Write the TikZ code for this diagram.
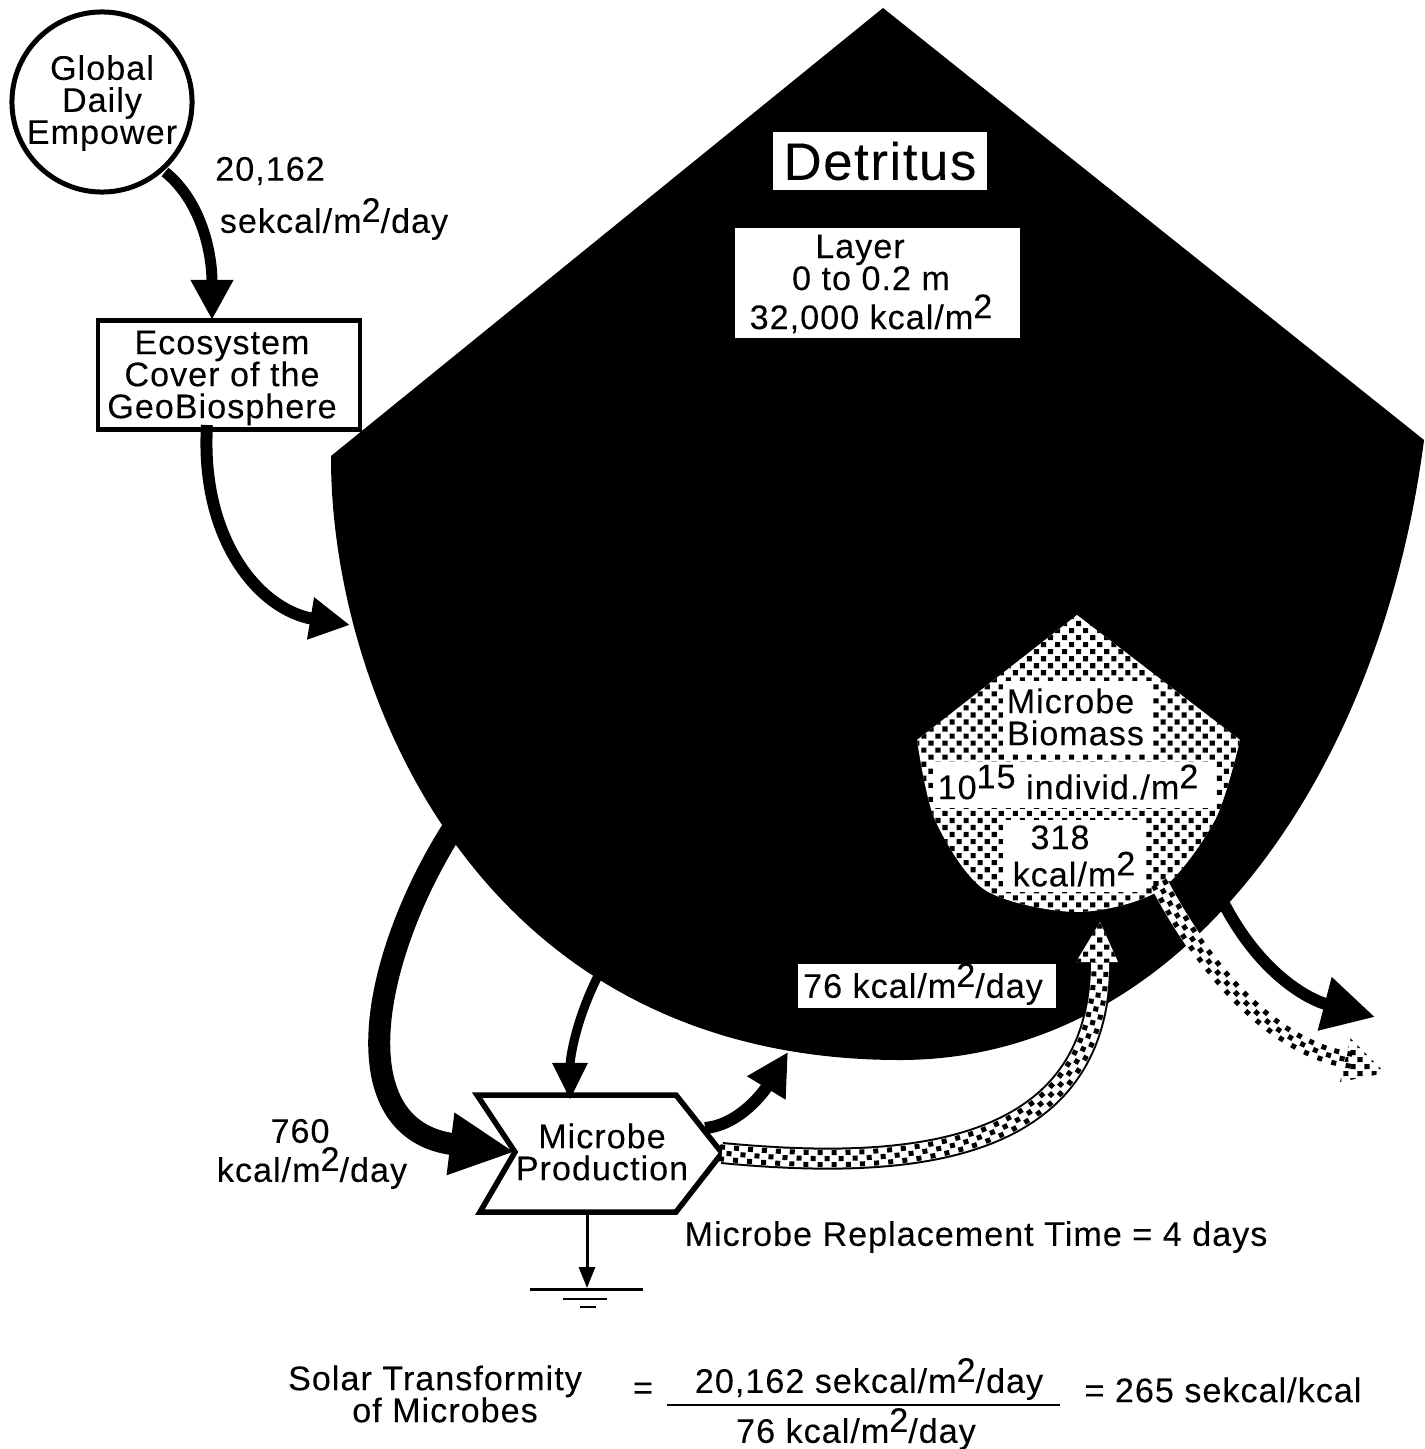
\documentclass[tikz,border=0pt]{standalone}
\usepackage{fontspec}
\setmainfont{Liberation Sans}[LetterSpace=3,FakeBold=0.12]
\usepackage{xcolor}
\usetikzlibrary{arrows.meta, patterns, decorations.markings}
\definecolor{InkBlack}{RGB}{0,0,0}
\pgfdeclarepatternformonly{stipple}{\pgfqpoint{-.1pt}{-.1pt}}{\pgfqpoint{4.1pt}{4.1pt}}{\pgfqpoint{4pt}{4pt}}{
  \pgfpathrectangle{\pgfqpoint{0pt}{0pt}}{\pgfqpoint{1.45pt}{1.45pt}}
  \pgfpathrectangle{\pgfqpoint{2pt}{2pt}}{\pgfqpoint{1.45pt}{1.45pt}}
  \pgfusepath{fill}}
\newcommand{\up}[1]{\smash{\raisebox{0.32em}{#1}}}
\newcommand{\txt}{\fontsize{9.7}{9.1}\selectfont}
\tikzset{
  label/.style={font=\txt, align=center, inner sep=0pt},
  whitebox/.style={label, fill=white},
  flow/.style={InkBlack, line width=.11cm, -{Triangle[length=.4cm, width=.4cm]}},
  bandedge/.style={InkBlack, line width=.22cm},
  bandfill/.style={white, line width=.18cm},
  stippleband/.style={draw=none, decoration={markings,
      mark=between positions 0 and 1 step .07cm with {
        \ifodd\pgfkeysvalueof{/pgf/decoration/mark info/sequence number}\relax
          \fill[InkBlack] (-2.5,-8.5) rectangle (2.5,-3.5);
          \fill[InkBlack] (-2.5,3.5) rectangle (2.5,8.5);
        \else
          \fill[InkBlack] (-2.5,-2.5) rectangle (2.5,2.5);
        \fi}},
    postaction={decorate}},
}
\begin{document}
\begin{tikzpicture}[x=0.01cm, y=-0.01cm]
\useasboundingbox (0,0) rectangle (1424,1449);

% ---- Detritus tank ----
\fill[InkBlack] (883,8) -- (1424,440)
  .. controls (1380,780) and (1180,1060) .. (900,1060)
  .. controls (470,1060) and (330,680) .. (331,456) -- cycle;
\node[whitebox, minimum width=2.14cm, minimum height=.57cm, font=\fontsize{15}{18}\selectfont] (detritus) at (880,161) {Detritus};
\node[whitebox, minimum width=2.85cm, minimum height=1.10cm] (layer) at (877.5,283) {};
\node[label] (layertext) at (871,284) {Layer\hspace*{.22cm}\\0 to 0.2 m\hspace*{-.04cm}\\[2pt]32,000 kcal/m\up{2}};

% ---- Microbe tank ----
\fill[white] (1077,615) -- (1240,740)
  -- plot[smooth] coordinates {(1240,740) (1215,820) (1160,890) (1077,912) (985,890) (935,820) (917,740)} -- cycle;
\fill[pattern=stipple, pattern color=InkBlack] (1077,615) -- (1240,740)
  -- plot[smooth] coordinates {(1240,740) (1215,820) (1160,890) (1077,912) (985,890) (935,820) (917,740)} -- cycle;
\node[whitebox, minimum width=1.50cm, minimum height=.72cm] (biomass) at (1078,717) {};
\node[label] (biomasstext) at (1075.5,717) {Microbe\hspace*{.1cm}\\Biomass};
\node[whitebox, minimum width=2.82cm, minimum height=.46cm] (individ) at (1074,785) {};
\node[label] (individtext) at (1068,787) {10\up{15} individ./m\up{2}};
\node[whitebox, minimum width=1.42cm, minimum height=.72cm] (stock) at (1074,856) {318\hspace*{.28cm}\\[1.5pt]kcal/m\up{2}};
\node[whitebox, minimum width=2.58cm, minimum height=.43cm] (yield) at (927,986) {};
\node[label] (yieldtext) at (923,989) {76 kcal/m\up{2}/day};

% ---- Sources and producer ----
\node[draw=InkBlack, line width=.05cm, circle, fill=white, minimum size=1.80cm] (global) at (102,102) {};
\node[label] (globaltext) at (102,103) {Global\\Daily\\Empower};
\node[draw=InkBlack, line width=.045cm, fill=white, minimum width=2.62cm, minimum height=1.09cm] (cover) at (229,375) {};
\node[label] (covertext) at (222,378) {Ecosystem\\Cover of the\\GeoBiosphere};
\draw[InkBlack, line width=.055cm, fill=white] (477,1095) -- (676,1095) -- (722,1153) -- (676,1212) -- (480,1212) -- (515,1152) -- cycle;
\node[label] (prod) at (602,1152) {Microbe\\Production};

% ---- Free ends ----
\coordinate (globalout) at (165,172);
\coordinate (coverin) at (212,320);
\coordinate (coverout) at (207,425);
\coordinate (tankin) at (350,625);
\coordinate (tankout) at (452,830);
\coordinate (prodleft) at (515,1152);
\coordinate (tankdown) at (600,972);
\coordinate (prodtop) at (570,1100);
\coordinate (produp) at (705,1128);
\coordinate (tankback) at (788,1052);
\coordinate (prodright) at (722,1153);
\coordinate (stockin) at (1100,955);
\coordinate (stockout) at (1160,885);
\coordinate (stockend) at (1350,1060);
\coordinate (tankleak) at (1222,900);
\coordinate (leakend) at (1375,1017);
\coordinate (prodbottom) at (587,1212);
\coordinate (ground) at (587,1288);

% ---- Flows ----
\draw[flow] (globalout) .. controls (200,200) and (212,250) .. (coverin);
\draw[flow, line width=.12cm] (coverout) .. controls (200,540) and (260,610) .. (tankin);
\draw[flow, line width=.22cm, -{Triangle[length=.65cm, width=.58cm]}] (tankout) .. controls (370,960) and (340,1130) .. (prodleft);
\draw[flow, line width=.09cm, -{Triangle[length=.37cm, width=.33cm]}] (tankdown) .. controls (575,1020) and (570,1060) .. (prodtop);
\draw[flow, line width=.12cm, -{Triangle[length=.42cm, width=.42cm]}] (produp) .. controls (740,1125) and (765,1090) .. (tankback);
\draw[flow, line width=.12cm, -{Triangle[length=.52cm, width=.52cm]}] (tankleak) .. controls (1260,975) and (1310,1000) .. (leakend);
\draw[flow, line width=.03cm, -{Triangle[length=.21cm, width=.16cm]}] (prodbottom) -- (ground);

% ---- Stippled flows ----
\draw[bandedge] (prodright) .. controls (900,1170) and (1105,1160) .. (stockin);
\draw[bandfill] (prodright) .. controls (900,1170) and (1105,1160) .. (stockin);
\draw[stippleband] (prodright) .. controls (900,1170) and (1105,1160) .. (stockin);
\draw[bandfill] (stockout) .. controls (1210,980) and (1280,1050) .. (stockend);
\draw[stippleband] (stockout) .. controls (1210,980) and (1280,1050) .. (stockend);
\fill[white] (1100,922) -- (1118,962) -- (1076,962) -- cycle;
\fill[pattern=stipple, pattern color=InkBlack] (1100,922) -- (1118,962) -- (1076,962) -- cycle;
\fill[pattern=stipple, pattern color=InkBlack] (1385,1073) -- (1340,1082) -- (1350,1038) -- cycle;

% ---- Ground ----
\draw[InkBlack, line width=.03cm] (530,1289) -- (643,1289);
\draw[InkBlack, line width=.02cm] (563,1299) -- (607,1299);
\draw[InkBlack, line width=.015cm] (580,1307) -- (596,1307);

% ---- Labels ----
\node[label] (empower) at (270,171) {20,162};
\node[label] (empowerunit) at (334,224) {sekcal/m\up{2}/day};
\node[label] (inflow) at (300,1131) {760};
\node[label] (inflowunit) at (312,1173) {kcal/m\up{2}/day};
\node[label] (replace) at (976,1237) {Microbe Replacement Time = 4 days};
\node[label] (solar) at (435,1394) {Solar Transformity\\\hspace*{.2cm}of Microbes};
\node[label] (equals) at (643,1391) {=};
\node[label] (numer) at (869,1384) {20,162 sekcal/m\up{2}/day};
\draw[InkBlack, line width=.02cm] (667,1405) -- (1060,1405);
\node[label] (denom) at (856,1434) {76 kcal/m\up{2}/day};
\node[label] (result) at (1223,1390) {= 265 sekcal/kcal};
\end{tikzpicture}
\end{document}
